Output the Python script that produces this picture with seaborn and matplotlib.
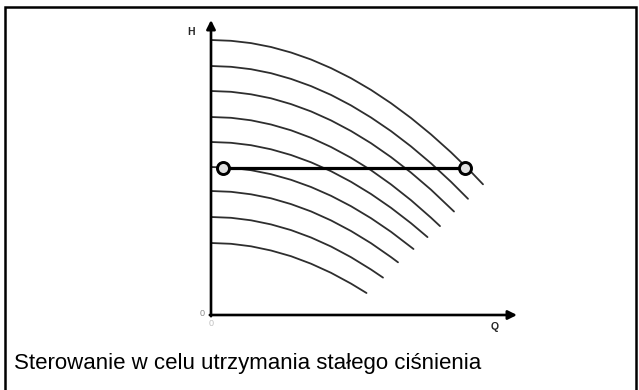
import matplotlib
matplotlib.use("Agg")
import matplotlib.pyplot as plt
import seaborn as sns
import pandas as pd
from matplotlib.patches import Rectangle

# ---- data (Q and H in arbitrary units) ----
curve_q = [
    [0, 2, 4, 6, 8, 10, 12, 14, 16, 18, 20, 22, 24, 26, 27.2],
    [0, 2, 4, 6, 8, 10, 12, 14, 16, 18, 20, 22, 24, 25.7],
    [0, 2, 4, 6, 8, 10, 12, 14, 16, 18, 20, 22, 24.3],
    [0, 2, 4, 6, 8, 10, 12, 14, 16, 18, 20, 22, 22.9],
    [0, 2, 4, 6, 8, 10, 12, 14, 16, 18, 20, 21.65],
    [0, 2, 4, 6, 8, 10, 12, 14, 16, 18, 20.25],
    [0, 2, 4, 6, 8, 10, 12, 14, 16, 18, 18.7],
    [0, 2, 4, 6, 8, 10, 12, 14, 16, 17.2],
    [0, 2, 4, 6, 8, 10, 12, 14, 15.55],
]
curve_h = [
    [27.5, 27.42, 27.19, 26.8, 26.25, 25.55, 24.69, 23.68, 22.51, 21.18, 19.7, 18.06, 16.27, 14.32, 13.07],
    [24.9, 24.82, 24.58, 24.18, 23.61, 22.89, 22.01, 20.96, 19.75, 18.39, 16.86, 15.17, 13.32, 11.62],
    [22.4, 22.32, 22.07, 21.67, 21.09, 20.36, 19.46, 18.4, 17.18, 15.79, 14.24, 12.53, 10.35],
    [19.8, 19.72, 19.47, 19.05, 18.47, 17.72, 16.8, 15.72, 14.48, 13.06, 11.48, 9.73, 8.89],
    [17.3, 17.22, 16.98, 16.57, 16.0, 15.27, 14.38, 13.32, 12.1, 10.72, 9.18, 7.79],
    [14.8, 14.72, 14.48, 14.08, 13.52, 12.8, 11.92, 10.88, 9.68, 8.32, 6.6],
    [12.4, 12.32, 12.07, 11.67, 11.09, 10.36, 9.46, 8.4, 7.18, 5.79, 5.27],
    [9.8, 9.72, 9.47, 9.06, 8.49, 7.75, 6.85, 5.78, 4.55, 3.74],
    [7.2, 7.12, 6.87, 6.45, 5.88, 5.13, 4.22, 3.14, 2.2],
]
setpoint_q = [1.2, 25.4]
setpoint_h = [14.7, 14.7]
axis_q_max = 30.6
axis_h_max = 29.5
caption = "Sterowanie w celu utrzymania stałego ciśnienia"

rows = []
for i, (qs, hs) in enumerate(zip(curve_q, curve_h)):
    for q, h in zip(qs, hs):
        rows.append({"curve": i, "Q": q, "H": h})
df = pd.DataFrame(rows)
sp = pd.DataFrame({"Q": setpoint_q, "H": setpoint_h})

sns.set_theme(style="white")
plt.rcParams["font.family"] = ["Liberation Sans", "DejaVu Sans"]

W, Hpx = 639, 390
fig = plt.figure(figsize=(W / 100, Hpx / 100), dpi=100)
ax = fig.add_axes([0, 0, 1, 1])
x0, y0, s = 211, 315, 10
ax.set_xlim((0 - x0) / s, (W - x0) / s)
ax.set_ylim((y0 - Hpx) / s, (y0 - 0) / s)
ax.axis("off")

# pump curves
sns.lineplot(data=df, x="Q", y="H", units="curve", estimator=None, sort=False,
             color="#2e2e2e", lw=1.3, ax=ax, legend=False)

# axes with arrows
arrow = dict(arrowstyle="-|>", lw=1.9, color="black", mutation_scale=13,
             shrinkA=0, shrinkB=0)
ax.annotate("", xy=(axis_q_max, 0), xytext=(-0.12, 0), arrowprops=arrow,
            annotation_clip=False)
ax.annotate("", xy=(0, axis_h_max), xytext=(0, -0.12), arrowprops=arrow,
            annotation_clip=False)

# constant pressure line
sns.lineplot(data=sp, x="Q", y="H", color="black", lw=2.3, ax=ax, legend=False)
sns.scatterplot(data=sp, x="Q", y="H", marker="o", s=75, facecolor="#e0e0e0",
                edgecolor="black", linewidth=2.1, ax=ax, legend=False, zorder=5)

# labels
ax.text(-1.95, 28.3, "H", fontsize=7.5, fontweight="bold", ha="center", va="center")
ax.text(28.4, -1.2, "Q", fontsize=7.5, fontweight="bold", ha="center", va="center")
ax.text(-0.93, 0.2, "0", fontsize=6.5, color="#8a8a8a", ha="center", va="center")
ax.text(-0.03, -0.8, "0", fontsize=6.5, color="#c0c0c0", ha="center", va="center")

fig.text(14 / W, 1 - 363 / Hpx, caption, fontsize=16, ha="left", va="center",
         color="black")

# outer frame
fig.add_artist(Rectangle((5 / W, -0.05), (636 - 5) / W, (Hpx - 7) / Hpx + 0.05,
                         transform=fig.transFigure, fill=False, lw=1.8,
                         ec="black"))

fig.savefig("out.png", dpi=100)
